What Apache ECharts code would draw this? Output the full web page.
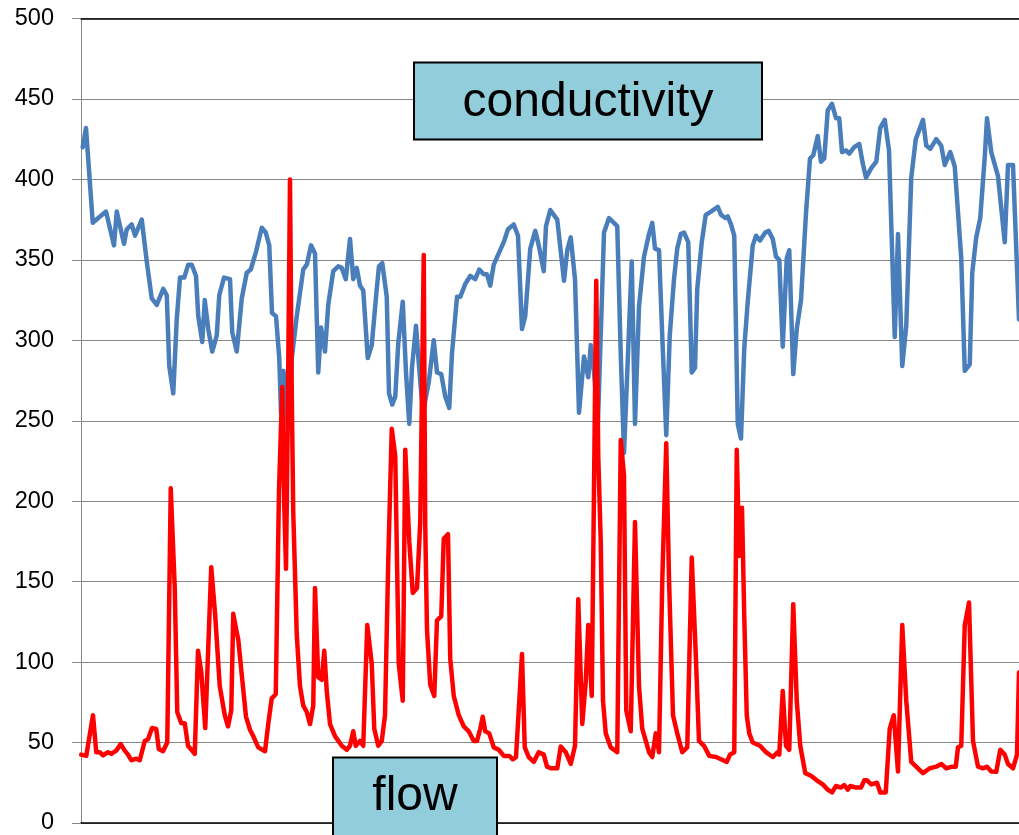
<!DOCTYPE html>
<html>
<head>
<meta charset="utf-8">
<script src="https://cdn.jsdelivr.net/npm/echarts@6/dist/echarts.min.js"></script>
<style>
html,body{margin:0;padding:0;background:#fff;}
#chart{width:1019px;height:835px;}
</style>
</head>
<body>
<div id="chart"></div>
<script>
// conductivity (blue) : day index and value
const condDay = [0.7,2.0,4.7,6.9,10.0,10.8,13.2,14.3,17.2,18.3,
20.3,21.6,24.3,26.3,28.3,30.3,32.9,34.3,35.3,36.9,
38.3,39.6,41.3,42.9,44.3,46.0,46.9,48.5,49.5,50.9,
52.5,54.3,55.3,57.2,59.6,60.5,62.3,64.3,66.3,67.9,
70.0,72.3,73.9,75.3,76.4,78.0,79.3,80.0,81.0,82.8,
84.4,86.3,88.9,90.3,92.0,93.6,94.9,96.0,97.6,98.9,
100.9,102.9,104.3,105.9,107.6,108.9,110.3,111.6,112.9,114.7,
116.3,118.3,119.2,120.5,122.3,123.2,124.5,125.7,126.9,128.7,
130.0,131.3,132.4,134.0,135.1,136.8,139.1,141.1,142.4,144.1,
145.7,147.3,148.4,150.4,151.7,153.7,155.7,157.7,159.3,161.1,
162.4,163.7,165.1,167.1,169.1,170.8,173.1,174.8,176.4,177.7,
179.7,181.7,183.1,185.1,186.0,187.7,188.5,190.5,193.2,194.5,
195.9,197.6,199.2,201.2,202.9,203.9,205.2,206.8,209.2,211.2,
214.5,215.9,217.2,220.3,221.6,223.2,225.2,227.2,228.5,229.6,
231.2,232.5,234.1,235.5,237.2,238.5,239.9,241.2,242.9,244.3,
245.6,246.5,248.3,249.9,252.0,254.7,256.0,257.7,258.7,260.0,
261.3,262.7,264.0,265.3,266.7,268.7,270.0,271.6,273.7,275.1,
276.7,278.0,279.3,280.7,282.3,283.3,284.9,286.3,288.0,290.0,
291.6,292.9,294.7,296.0,297.3,298.7,300.4,302.0,303.3,304.4,
306.0,307.3,309.3,311.3,312.7,314.0,316.1,318.1,319.7,321.5,
323.2,325.5,326.8,328.5,330.1,332.1,333.9,336.8,338.1,339.7,
342.1,344.1,345.5,347.7,349.5,352.1,353.5,355.5,356.5,358.1,
359.7,361.5,362.4,364.1,366.8,369.5,370.8,372.8,375.2];
const condVal = [420,432,373,376,380,379,359,380,360,369,
372,365,375,349,326,322,332,328,284,267,
313,339,339,347,347,340,315,299,325,307,
293,303,328,339,338,305,293,326,342,344,
355,370,367,359,317,315,289,255,281,245,
290,315,344,347,359,354,280,308,293,322,
343,346,345,338,363,338,345,334,331,289,
297,332,346,348,327,267,260,265,298,324,
280,248,283,309,286,255,274,300,280,279,
265,258,292,327,327,335,340,338,344,341,
341,334,347,354,361,369,372,365,307,315,
357,368,359,343,371,381,382,375,337,356,
364,338,255,290,277,297,280,250,367,376,
371,291,230,349,248,321,352,366,373,357,
356,303,241,303,338,357,366,367,361,280,
283,332,361,378,380,383,378,376,377,372,
365,248,239,295,324,359,365,362,367,368,
363,352,350,296,351,356,279,307,325,379,
413,415,427,411,413,443,447,438,438,417,
418,416,420,422,410,401,407,411,432,437,
418,302,366,284,309,401,425,437,421,419,
425,421,409,417,408,351,281,285,342,364,
376,414,438,417,402,361,409,409,313];

// flow (red) : day index and value
const flowDay = [0.1,2.1,4.8,6.1,7.5,8.8,10.8,12.1,14.1,15.9,
17.5,18.8,20.1,22.1,23.5,25.5,26.8,28.4,30.1,31.1,
32.8,34.5,35.9,37.5,38.5,40.1,41.5,42.8,45.5,46.8,
48.1,49.7,52.1,53.7,55.5,57.5,58.8,60.1,60.9,62.1,
62.9,64.7,66.0,67.6,68.9,70.9,73.6,74.9,76.3,77.9,
79.2,80.5,81.3,82.0,82.7,83.6,84.3,84.9,85.6,86.3,
87.6,88.9,90.3,91.6,92.9,93.6,94.9,96.3,97.3,98.3,
99.6,101.6,104.3,106.3,107.6,108.9,109.9,111.6,112.9,114.5,
116.3,117.3,118.9,120.3,121.6,122.9,124.3,125.7,127.1,128.7,
129.7,131.3,132.7,134.4,135.7,137.1,137.7,138.4,139.7,141.3,
142.4,144.1,145.1,146.8,147.7,149.1,151.1,153.1,155.1,157.1,
158.4,159.7,160.7,161.7,163.3,165.1,167.1,169.1,171.3,172.7,
174.0,176.4,177.5,179.1,181.1,183.1,185.1,186.4,188.1,190.5,
191.9,193.9,195.9,197.6,198.9,200.5,201.9,202.9,204.3,206.1,
206.9,207.9,208.8,209.9,211.9,214.5,215.9,217.2,218.1,219.9,
221.6,223.2,224.5,227.2,228.5,229.9,231.2,232.5,234.1,235.2,
236.8,238.5,240.5,242.5,244.3,245.9,247.2,249.2,251.3,254.0,
256.0,258.3,259.6,261.3,262.3,263.3,264.4,265.3,266.3,267.3,
268.7,271.6,274.0,276.7,278.7,279.3,280.7,282.0,283.3,284.9,
286.3,287.7,289.7,292.0,294.3,296.7,298.7,300.4,302.0,304.0,
305.3,306.7,307.7,310.0,312.0,313.3,314.4,316.1,318.4,319.7,
321.9,323.5,325.1,326.8,328.5,330.1,332.1,334.8,336.8,339.5,
342.1,344.1,346.1,348.5,349.9,350.8,352.1,353.5,355.2,356.8,
358.8,360.8,362.4,364.1,366.1,367.7,369.5,370.8,372.8,374.4,
375.2];
const flowVal = [42.5,41.7,67,44,44,42,44,43,45,49,
45,42.5,39,40,39,51,52,59,58.5,46,
44.6,50,208,146,69,62,62,48,43,107,
94,59,159,128.5,85,67,60,70,130,120,
114,86,66,58,54,47,44.6,61.5,77.5,80,
207,271,198,158,251,400,268,193,155,117,
85,73,69,61.5,73,146,90.6,89,107,82,
61.5,54,48,45.5,48,57,48,51,48,123,
99,58.6,48,51,67,163,245,228,99,76,
232,175,143,146,187,353,184,120,86,79,
126,128.5,176.6,179.5,102,79,67,60,57,51,
51,58.6,66,57,55.7,47,45.5,41.7,41.7,39.6,
41,105,47,41,38,44,42.5,35,34,34,
47.5,44,36.7,48,139,61.5,88,123,79,337,
228,175,76,55.7,47,44,238,216,70,57,
187,85,58.6,44,41,55.7,44,150,236,152,
67,55.7,44,47,165,105,51,48,41.7,41,
39.6,38,42.5,44,232,166,196,128.5,67,55.7,
50,48,44,41,44,42.5,82,48,45.5,136,
76,48,31,29.4,26.5,24,20.7,19,23,22,
23.6,20.7,23,22,22,26.5,26.5,24,25,19,
19,58.6,67,32,123,76,38,34,31,34,
35,36.7,34,35,35,47,48,123,137,51,
35,34,35,32,31.8,45.5,42.5,36.7,34,42.5,
93.5];

const yMin = 0, yMax = 500, yStep = 50;
const dayMin = 0, dayMax = 375.2;
const labelCond = 'conductivity';
const labelFlow = 'flow';

if (condDay.length !== condVal.length) throw new Error('cond length mismatch ' + condDay.length + ' ' + condVal.length);
if (flowDay.length !== flowVal.length) throw new Error('flow length mismatch ' + flowDay.length + ' ' + flowVal.length);

const condData = condDay.map((d, i) => [d, condVal[i]]);
const flowData = flowDay.map((d, i) => [d, flowVal[i]]);

const chart = echarts.init(document.getElementById('chart'), null, {renderer: 'canvas'});
const gridColor = '#878787';
const option = {
  animation: false,
  backgroundColor: '#ffffff',
  grid: {left: 81, right: 0, top: 18.5, bottom: 8.5, containLabel: false},
  xAxis: [
    {type: 'value', min: dayMin, max: dayMax, position: 'bottom',
     axisLine: {show: true, onZero: false, lineStyle: {color: '#000', width: 1.5}},
     axisTick: {show: false}, axisLabel: {show: false}, splitLine: {show: false}},
    {type: 'value', min: dayMin, max: dayMax, position: 'top',
     axisLine: {show: true, onZero: false, lineStyle: {color: '#000', width: 1.5}},
     axisTick: {show: false}, axisLabel: {show: false}, splitLine: {show: false}}
  ],
  yAxis: {
    type: 'value', min: yMin, max: yMax, interval: yStep,
    axisLine: {show: true, lineStyle: {color: gridColor, width: 1}},
    axisTick: {show: true, inside: false, length: 9, lineStyle: {color: gridColor, width: 1}},
    axisLabel: {show: true, margin: 27, color: '#000', fontSize: 23.5, fontFamily: 'Liberation Sans, Arial, sans-serif'},
    splitLine: {show: true, lineStyle: {color: gridColor, width: 1}}
  },
  series: [
    {name: labelCond, type: 'line', data: condData, xAxisIndex: 0, showSymbol: false, symbol: 'none',
     lineStyle: {color: '#4A7EBB', width: 4.5, join: 'round', cap: 'round'}, z: 3},
    {name: labelFlow, type: 'line', data: flowData, xAxisIndex: 0, showSymbol: false, symbol: 'none',
     lineStyle: {color: '#FF0000', width: 4.5, join: 'round', cap: 'round'}, z: 4}
  ],
  graphic: [
    {type: 'rect', z: 100, shape: {x: 414, y: 62.5, width: 348, height: 77},
     style: {fill: '#92CDDC', stroke: '#000', lineWidth: 2}},
    {type: 'text', z: 101, x: 588, y: 103,
     style: {text: labelCond, fill: '#000', font: '48px "Liberation Sans", Arial, sans-serif', align: 'center', verticalAlign: 'middle'}},
    {type: 'rect', z: 100, shape: {x: 333, y: 757.5, width: 164, height: 100},
     style: {fill: '#92CDDC', stroke: '#000', lineWidth: 2}},
    {type: 'text', z: 101, x: 415, y: 797,
     style: {text: labelFlow, fill: '#000', font: '48px "Liberation Sans", Arial, sans-serif', align: 'center', verticalAlign: 'middle'}}
  ]
};
chart.setOption(option);
</script>
</body>
</html>
